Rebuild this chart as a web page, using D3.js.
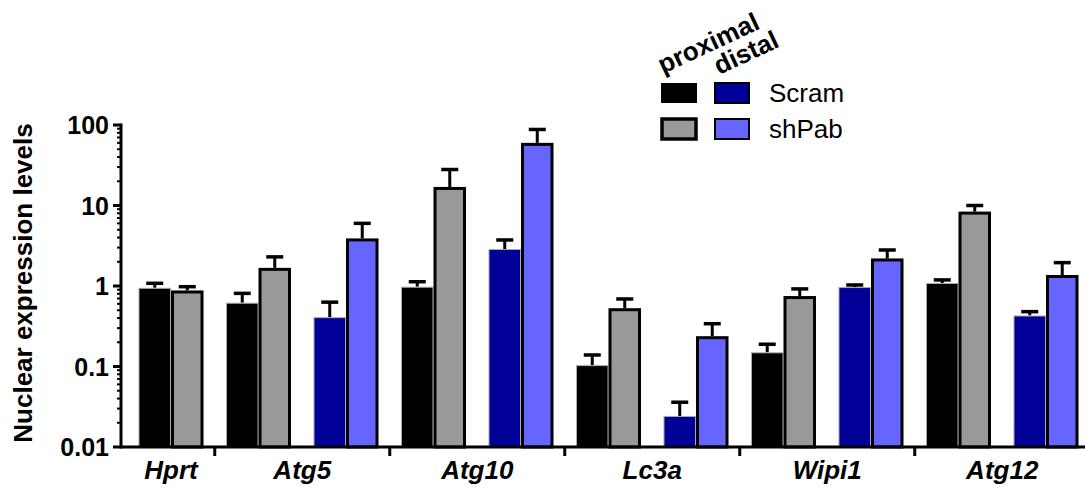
<!DOCTYPE html>
<html>
<head>
<meta charset="utf-8">
<script src="https://cdn.jsdelivr.net/npm/d3@7"></script>
<style>
  body { margin: 0; background: #fff; }
  svg { display: block; font-family: "Liberation Sans", Arial, sans-serif; }
</style>
</head>
<body>
<div id="chart"></div>
<script>
// genes on the x axis, each with a proximal and (except Hprt) a distal pair
const genes = ["Hprt", "Atg5", "Atg10", "Lc3a", "Wipi1", "Atg12"];
const regions = ["proximal", "distal"];
const treatments = ["Scram", "shPab"];

const proximalScram = [0.95, 0.62, 0.98, 0.104, 0.15, 1.09];
const proximalShPab = [0.88, 1.68, 17.0, 0.53, 0.75, 8.4];
const distalScram   = [null, 0.41, 2.88, 0.0243, 0.97, 0.43];
const distalShPab   = [null, 3.9, 60, 0.238, 2.2, 1.37];

// upper error bar ends
const proximalScramErr = [1.08, 0.81, 1.13, 0.139, 0.189, 1.19];
const proximalShPabErr = [0.98, 2.3, 28, 0.69, 0.92, 10.0];
const distalScramErr   = [null, 0.63, 3.73, 0.036, 1.03, 0.48];
const distalShPabErr   = [null, 6.0, 88, 0.34, 2.8, 1.95];

const yTicks = [0.01, 0.1, 1, 10, 100];

const width = 1085, height = 494;
const margin = {top: 125, right: 0, bottom: 47, left: 121};

const fills = {
  proximal: {Scram: "#000000", shPab: "#999999"},
  distal: {Scram: "#000099", shPab: "#6666ff"}
};

// build pairs (one per gene/region that has data)
const pairs = [];
genes.forEach((g, i) => {
  pairs.push({gene: g, region: "proximal", key: g + "|proximal", bars: [
    {t: "Scram", v: proximalScram[i], e: proximalScramErr[i]},
    {t: "shPab", v: proximalShPab[i], e: proximalShPabErr[i]}]});
  if (distalScram[i] != null) {
    pairs.push({gene: g, region: "distal", key: g + "|distal", bars: [
      {t: "Scram", v: distalScram[i], e: distalScramErr[i]},
      {t: "shPab", v: distalShPab[i], e: distalShPabErr[i]}]});
  }
});

const svg = d3.select("#chart").append("svg")
  .attr("width", width)
  .attr("height", height);

const x = d3.scaleBand()
  .domain(pairs.map(d => d.key))
  .range([margin.left, 1096])
  .paddingInner(0.257)
  .paddingOuter(0.2);

const xi = d3.scaleBand()
  .domain(treatments)
  .range([0, x.bandwidth()]);

const y = d3.scaleLog()
  .domain([0.01, 100])
  .range([height - margin.bottom, margin.top]);

const y0 = y(0.01);

// bars
const pairG = svg.append("g")
  .selectAll("g")
  .data(pairs)
  .join("g")
    .attr("transform", d => `translate(${x(d.key)},0)`);

const barData = d => d.bars.map(b => Object.assign({region: d.region}, b));

pairG.selectAll("g.err")
  .data(barData)
  .join("g")
  .each(function (d) {
    const g = d3.select(this);
    const cx = xi(d.t) + xi.bandwidth() / 2;
    g.append("line")
      .attr("x1", cx).attr("x2", cx)
      .attr("y1", y(d.v)).attr("y2", y(d.e))
      .attr("stroke", "#000").attr("stroke-width", 3);
    g.append("line")
      .attr("x1", cx - 8.5).attr("x2", cx + 8.5)
      .attr("y1", y(d.e)).attr("y2", y(d.e))
      .attr("stroke", "#000").attr("stroke-width", 3.5);
  });

pairG.selectAll("rect")
  .data(barData)
  .join("rect")
    .attr("x", d => xi(d.t) + (d.t === "shPab" ? 1.5 : 0.5))
    .attr("width", d => xi.bandwidth() - (d.t === "shPab" ? 3 : 1))
    .attr("y", d => y(d.v) + (d.t === "shPab" ? 1.5 : 0.5))
    .attr("height", d => y0 - y(d.v) - (d.t === "shPab" ? 1.5 : 0.5))
    .attr("fill", d => fills[d.region][d.t])
    .attr("stroke", d => d.t === "shPab" ? "#000" : "#aaa")
    .attr("stroke-width", d => d.t === "shPab" ? 3 : 1);

// y axis
const minorTicks = [];
for (let e = -2; e < 2; e++) {
  for (let m = 2; m <= 9; m++) minorTicks.push(m * Math.pow(10, e));
}
const yAxis = svg.append("g");
yAxis.selectAll("line.minor")
  .data(minorTicks)
  .join("line")
    .attr("x1", margin.left - 4).attr("x2", margin.left)
    .attr("y1", d => y(d)).attr("y2", d => y(d))
    .attr("stroke", "#000").attr("stroke-width", 2);
yAxis.selectAll("line.major")
  .data(yTicks)
  .join("line")
    .attr("x1", margin.left - 8).attr("x2", margin.left)
    .attr("y1", d => y(d)).attr("y2", d => y(d))
    .attr("stroke", "#000").attr("stroke-width", 3);
yAxis.selectAll("text")
  .data(yTicks)
  .join("text")
    .attr("x", margin.left - 12)
    .attr("y", d => y(d))
    .attr("dy", "0.36em")
    .attr("text-anchor", "end")
    .attr("font-size", 25)
    .attr("font-weight", "bold")
    .text(d => d3.format("~g")(d));
svg.append("line")
  .attr("x1", margin.left).attr("x2", margin.left)
  .attr("y1", margin.top - 1.5).attr("y2", y0 + 1.5)
  .attr("stroke", "#000").attr("stroke-width", 3);

svg.append("text")
  .attr("transform", `translate(32,${(margin.top + y0) / 2 - 3}) rotate(-90)`)
  .attr("text-anchor", "middle")
  .attr("font-size", 26)
  .attr("font-weight", "bold")
  .text("Nuclear expression levels");

// x axis
svg.append("line")
  .attr("x1", margin.left).attr("x2", width)
  .attr("y1", y0).attr("y2", y0)
  .attr("stroke", "#000").attr("stroke-width", 3);

const groupExtent = genes.map(g => {
  const ps = pairs.filter(p => p.gene === g);
  return [x(ps[0].key), x(ps[ps.length - 1].key) + x.bandwidth()];
});

const seps = groupExtent.slice(1).map((e, i) => (groupExtent[i][1] + e[0]) / 2);
svg.selectAll("line.sep")
  .data(seps)
  .join("line")
    .attr("x1", d => d).attr("x2", d => d)
    .attr("y1", y0).attr("y2", y0 + 9)
    .attr("stroke", "#000").attr("stroke-width", 3);

svg.selectAll("text.gene")
  .data(genes)
  .join("text")
    .attr("x", (d, i) => (groupExtent[i][0] + groupExtent[i][1]) / 2)
    .attr("y", y0 + 32)
    .attr("text-anchor", "middle")
    .attr("font-size", 26)
    .attr("font-weight", "bold")
    .attr("font-style", "italic")
    .text(d => d);

// legend
const legend = svg.append("g");
const boxX = {proximal: 661, distal: 714};
const rowY = {Scram: 82, shPab: 118};
regions.forEach(r => {
  treatments.forEach(t => {
    legend.append("rect")
      .attr("x", boxX[r] + (t === "shPab" || r === "distal" ? 1 : 0))
      .attr("y", rowY[t] + 1)
      .attr("width", 36 - (t === "shPab" || r === "distal" ? 2 : 0))
      .attr("height", 20)
      .attr("fill", fills[r][t])
      .attr("stroke", r === "proximal" && t === "Scram" ? "none" : "#000")
      .attr("stroke-width", t === "shPab" && r === "proximal" ? 3.5 : 2);
  });
});
treatments.forEach(t => {
  legend.append("text")
    .attr("x", 769)
    .attr("y", rowY[t] + 20)
    .attr("font-size", 26)
    .text(t);
});
legend.append("text")
  .attr("transform", "translate(663,74) rotate(-25)")
  .attr("font-size", 26)
  .attr("font-weight", "bold")
  .text("proximal");
legend.append("text")
  .attr("transform", "translate(719,75) rotate(-25)")
  .attr("font-size", 26)
  .attr("font-weight", "bold")
  .text("distal");
</script>
</body>
</html>
